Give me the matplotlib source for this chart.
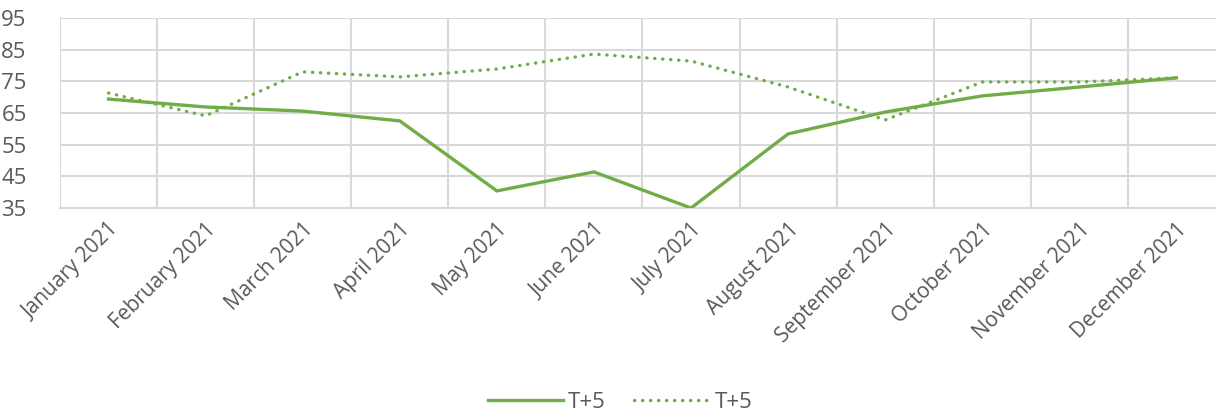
import numpy as np
import matplotlib.pyplot as plt

# data
months = ["January 2021", "February 2021", "March 2021", "April 2021", "May 2021",
          "June 2021", "July 2021", "August 2021", "September 2021", "October 2021",
          "November 2021", "December 2021"]
solid_vals = [69.4, 66.9, 65.6, 62.5, 40.4, 46.4, 35.0, 58.4, 65.3, 70.4, 73.2, 76.1]
dotted_vals = [71.3, 64.1, 78.0, 76.4, 78.9, 83.6, 81.4, 73.2, 62.8, 74.8, 74.8, 76.1]
yticks = [35, 45, 55, 65, 75, 85, 95]

green = "#70AD47"
grid = "#D9D9D9"
txt = "#595959"
plt.rcParams['font.family'] = ['Open Sans', 'DejaVu Sans']

fig = plt.figure(figsize=(12.16, 4.17), dpi=100)
ax = fig.add_axes([60 / 1216, 1 - 208 / 417, 1165 / 1216, 190 / 417])

x = np.arange(len(months))
ax.plot(x, solid_vals, color=green, lw=2.4, solid_joinstyle='miter', label="T+5", zorder=3)
ax.plot(x, dotted_vals, color=green, lw=2.4, linestyle=(0, (0.1, 2.3)),
        dash_capstyle='round', label="T+5", zorder=3)

ax.set_xlim(-0.5, len(months) - 0.5)
ax.set_ylim(35, 95)
ax.set_yticks(yticks)
ax.set_xticks(x)
ax.set_xticks(np.arange(len(months) + 1) - 0.5, minor=True)
ax.set_xticklabels(months, rotation=45, ha='right', rotation_mode='anchor')
ax.grid(True, which='minor', axis='x', color=grid, lw=1.5)
ax.grid(True, which='major', axis='y', color=grid, lw=1.5)
ax.set_axisbelow(True)
for s in ['top', 'right', 'left']:
    ax.spines[s].set_visible(False)
ax.spines['bottom'].set_color(grid)
ax.spines['bottom'].set_linewidth(1.5)
ax.tick_params(axis='both', which='both', length=0, colors=txt)
ax.tick_params(axis='y', pad=24, labelsize=16)
ax.tick_params(axis='x', pad=8, labelsize=15)

fig.legend(loc='lower center', bbox_to_anchor=(620 / 1216, -0.038), ncol=2, frameon=False,
           fontsize=16, labelcolor=txt, handlelength=3.4, handletextpad=0.2, columnspacing=1.3)

fig.savefig("out.png", dpi=100)
